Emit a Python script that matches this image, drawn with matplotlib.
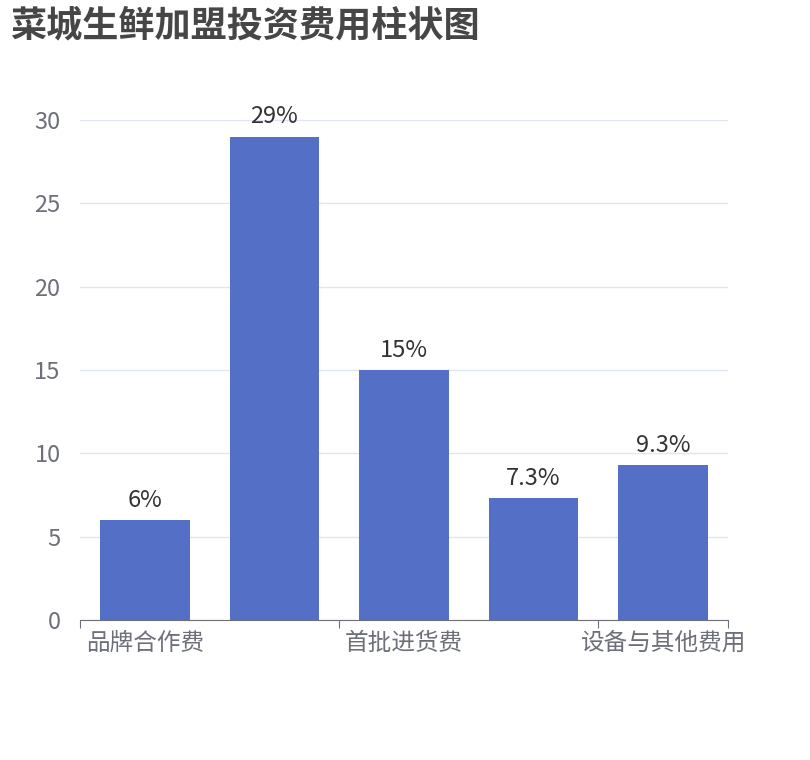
import matplotlib.pyplot as plt
import numpy as np

plt.rcParams['font.family'] = ['Noto Sans CJK SC', 'DejaVu Sans']

categories = ["品牌合作费", "店面租金", "首批进货费", "装修费", "设备与其他费用"]
values = [6, 29, 15, 7.3, 9.3]
labels = ["6%", "29%", "15%", "7.3%", "9.3%"]
shown = [0, 2, 4]

W, H = 810, 760
fig = plt.figure(figsize=(W / 100, H / 100), dpi=100)
ax = fig.add_axes([80 / W, 1 - 620 / H, 648 / W, 500 / H])

x = np.arange(len(values))
ax.bar(x, values, width=0.69, color="#5470c6", zorder=3)
for xi, v, t in zip(x, values, labels):
    ax.text(xi, v + 0.5, t, ha="center", va="bottom", fontsize=17, color="#333333")

ax.set_xlim(-0.5, len(values) - 0.5)
ax.set_ylim(0, 30)
ax.set_yticks(range(0, 31, 5))
ax.tick_params(axis="y", length=0, labelsize=17, labelcolor="#6e7079", pad=14)
ax.grid(axis="y", color="#e0e6f1", lw=1, zorder=0)
for s in ["top", "right", "left"]:
    ax.spines[s].set_visible(False)
ax.spines["bottom"].set_color("#6e7079")

ax.set_xticks([-0.5, 1.5, 3.5, 4.5])
ax.set_xticklabels([])
ax.tick_params(axis="x", length=6, color="#6e7079")
for i in shown:
    ax.text(x[i], -0.7, categories[i], ha="center", va="top", fontsize=17, color="#6e7079")

fig.text(10 / W, 1 - 26 / H, "菜城生鲜加盟投资费用柱状图", fontsize=26, fontweight="bold",
         color="#464646", va="center")
fig.savefig("out.png", dpi=100)
